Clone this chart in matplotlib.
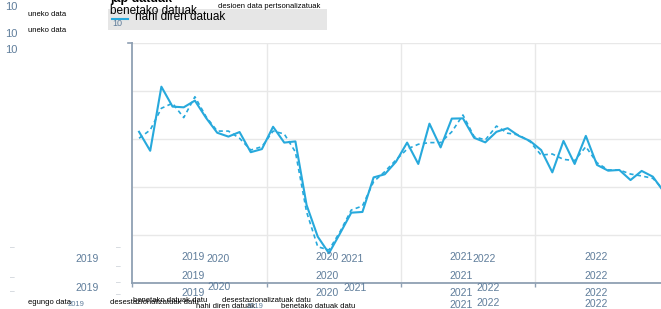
import matplotlib
matplotlib.use("Agg")
import matplotlib.pyplot as plt
from matplotlib.patches import Rectangle

plt.rcParams['font.family'] = ['Liberation Sans', 'DejaVu Sans']

# Data (monthly index)
months = list(range(48))
actual = [63.0, 55.1, 81.8, 73.5, 73.2, 76.0, 68.8, 62.6, 61.0, 62.9,
          54.5, 55.8, 65.1, 58.5, 59.0, 32.5, 19.3, 12.4, 20.7, 29.3,
          29.6, 44.0, 45.3, 50.5, 58.5, 49.6, 66.4, 56.5, 68.5, 68.6,
          60.5, 58.6, 63.0, 64.5, 61.3, 59.2, 55.4, 46.1, 59.2, 49.6,
          61.3, 49.2, 46.8, 47.1, 42.9, 46.7, 44.3, 37.9]
seas_adj = [60.3, 63.75, 72.8, 74.9, 68.9, 77.6, 69.3, 63.3, 63.3, 60.3,
            55.4, 56.8, 63.3, 62.1, 54.6, 29.6, 15.1, 13.75, 21.4, 30.4,
            32.1, 42.2, 46.4, 51.25, 55.8, 57.8, 58.5, 58.5, 63.0, 70.0,
            61.0, 59.6, 65.4, 62.4, 61.7, 58.9, 53.3, 53.75, 51.5, 51.0,
            56.8, 50.1, 47.1, 47.1, 45.4, 44.6, 43.6, 38.75]
year_grid = [11.46, 23.46, 35.46]
year_labels = ["2019", "2020", "2021", "2022"]
y_ticks = [0, 20, 40, 60, 80, 100]

W, H = 661, 309
fig = plt.figure(figsize=(W / 100, H / 100), dpi=100)

def fx(px):
    return px / W

def fy(py):
    return 1 - py / H

ax = fig.add_axes([fx(132), fy(283), fx(661) - fx(132), fy(43) - fy(283)])
line_c = '#27a9dc'
ax.plot(months, actual, color=line_c, lw=1.5, zorder=3)
ax.plot(months, seas_adj, color=line_c, lw=1.2, ls=(0, (2.5, 2)), zorder=3)
ax.set_xlim(-0.63, 46.73)
ax.set_ylim(0, 100)
ax.set_yticks(y_ticks)
ax.set_xticks(year_grid)
ax.set_xticks([-0.6], minor=True)
ax.set_yticklabels([])
ax.set_xticklabels([])
ax.grid(True, color='#e8e8e8', lw=1.0, zorder=0)
for s in ['top', 'right']:
    ax.spines[s].set_visible(False)
axis_c = '#8fa0b3'
for s in ['left', 'bottom']:
    ax.spines[s].set_color(axis_c)
    ax.spines[s].set_linewidth(1.3)
ax.tick_params(axis='both', which='both', length=3, color=axis_c, width=1)
ax.tick_params(axis='y', length=0)
ax.plot([-0.63 - 0.35, -0.63], [100, 100], color=axis_c, lw=1.2, clip_on=False)

blue = '#5f7d9b'
def t(px, py, s, size=8, color=blue, ha='left', va='center', **kw):
    fig.text(fx(px), fy(py), s, fontsize=size, color=color, ha=ha, va=va, **kw)

# Top-left garbled texts
t(5, 7, "10", 8)
t(5, 34, "10", 8)
t(5, 50, "10", 8)
t(28, 14, "uneko data", 5.5, 'black')
t(28, 30, "uneko data", 5.5, 'black')

# Legend box
fig.patches.append(Rectangle((fx(108), fy(29.5)), fx(327) - fx(108), fy(9) - fy(29.5),
                             transform=fig.transFigure, facecolor='#e6e6e6',
                             edgecolor='none', zorder=0))
t(110, -1, "jap datuak", 9, 'black', fontweight='bold')
t(134, -4, "datuak", 9, 'black', fontweight='bold')
t(110, 11, "benetako datuak", 8.5, 'black')
t(135, 17, "nahi diren datuak", 8.5, 'black')
fig.add_artist(plt.Line2D([fx(112), fx(128)], [fy(19), fy(19)], color=line_c, lw=1.5,
                          transform=fig.transFigure))
t(112, 24, "10", 6.5)
t(218, 7, "desioen data pertsonalizatuak", 5.5, 'black')

# Dashes on left
for py in [248, 267, 283, 295]:
    t(118, py, "–", 6, '#b0b8c2', ha='center')
for py in [248, 278, 292]:
    t(12, py, "–", 6, '#b0b8c2', ha='center')

# Year labels (garbled stacks)
ys = 7.5
t(87, 259.5, year_labels[0], ys, ha='center')
t(87, 288, year_labels[0], ys, ha='center')
t(76, 305, year_labels[0], 5.5, ha='center')

t(193, 257, year_labels[0], ys, ha='center')
t(218, 259, year_labels[1], ys, ha='center')
t(193, 276, year_labels[0], ys, ha='center')
t(193, 293, year_labels[0], ys, ha='center')
t(219, 287, year_labels[1], ys, ha='center')

t(327, 257.5, year_labels[1], ys, ha='center')
t(352, 259, year_labels[2], ys, ha='center')
t(327, 276, year_labels[1], ys, ha='center')
t(327, 293, year_labels[1], ys, ha='center')
t(355, 288, year_labels[2], ys, ha='center')

t(461.5, 257.5, year_labels[2], ys, ha='center')
t(484, 259, year_labels[3], ys, ha='center')
t(461.5, 276, year_labels[2], ys, ha='center')
t(461.5, 293, year_labels[2], ys, ha='center')
t(488, 288, year_labels[3], ys, ha='center')
t(461.5, 305, year_labels[2], ys, ha='center')
t(488, 303, year_labels[3], ys, ha='center')

for py in [257.5, 276, 293, 304]:
    t(596, py, year_labels[3], ys, ha='center')

# Bottom garbled texts
t(28, 303, "egungo data", 5.5, 'black')
t(110, 302, "desestazionalizatuak datu", 5.5, 'black')
t(133, 301, "benetako datuak datu", 5.5, 'black')
t(222, 301, "desestazionalizatuak datu", 5.5, 'black')
t(196, 306, "nahi diren datuak", 5.5, 'black')
t(255, 306, year_labels[0], 5.5, ha='center')
t(281, 307, "benetako datuak datu", 5.5, 'black')

fig.savefig("out.png", dpi=100)
